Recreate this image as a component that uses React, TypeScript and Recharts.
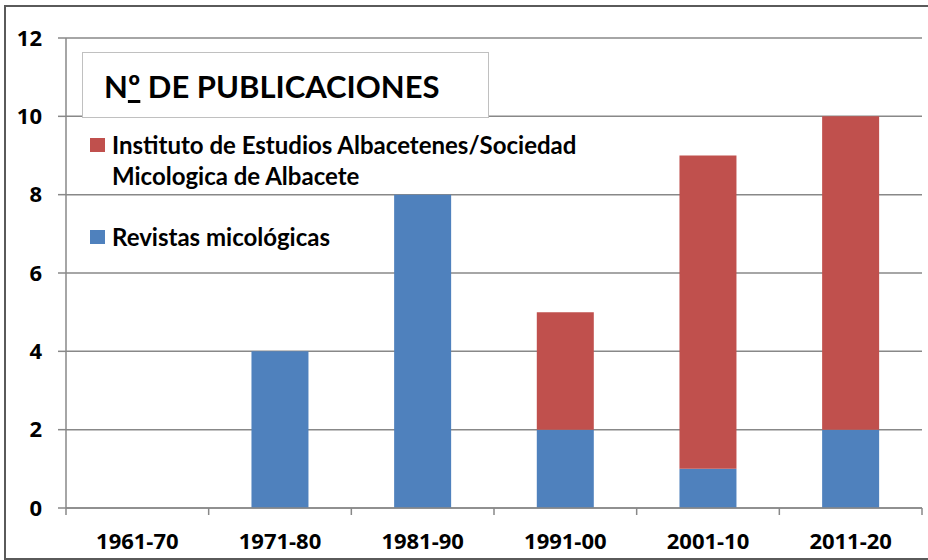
import { BarChart, Bar, XAxis, YAxis, CartesianGrid } from 'recharts';

const decades = ['1961-70', '1971-80', '1981-90', '1991-00', '2001-10', '2011-20'];
const revistas = [0, 4, 8, 2, 1, 2];
const instituto = [0, 0, 0, 3, 8, 8];
const yTicks = [0, 2, 4, 6, 8, 10, 12];

const titleText = ['N', 'º', ' DE PUBLICACIONES'];
const seriesNames = {
  revistas: 'Revistas micológicas',
  instituto: 'Instituto de Estudios Albacetenes/Sociedad Micologica de Albacete',
};

const BLUE = '#4f81bd';
const RED = '#c0504d';
const GRID = '#888888';
const FONT = 'Lato, "Open Sans", sans-serif';
const TICK_FONT = '"Open Sans", Lato, sans-serif';

const data = decades.map((d, i) => ({
  decade: d,
  revistas: revistas[i],
  instituto: instituto[i],
}));

const XTick = (props: any) => {
  const { x, y, payload, index, visibleTicksCount } = props;
  const half = payload.offset ?? 0;
  const axisY = y - 8;
  return (
    <g>
      <line x1={x - half} y1={axisY} x2={x - half} y2={axisY + 7} stroke={GRID} strokeWidth={1.5} />
      {index === visibleTicksCount - 1 && (
        <line x1={x + half} y1={axisY} x2={x + half} y2={axisY + 7} stroke={GRID} strokeWidth={1.5} />
      )}
      <text
        x={x}
        y={axisY + 41}
        textAnchor="middle"
        fontFamily={TICK_FONT}
        fontWeight={700}
        fontSize={22}
        fill="#000"
      >
        {payload.value}
      </text>
    </g>
  );
};

// legend drawn over the plot, red series listed first like the original
const LegendBox = () => (
  <div
    style={{
      position: 'absolute',
      left: 90,
      top: 129,
      fontFamily: FONT,
      fontWeight: 700,
      fontSize: 24,
      color: '#000',
    }}
  >
    <div style={{ display: 'flex', alignItems: 'flex-start', width: 520 }}>
      <span style={{ width: 15, height: 14, background: RED, marginTop: 9, marginRight: 7, flexShrink: 0 }} />
      <span style={{ lineHeight: '31px', width: 495 }}>{seriesNames.instituto}</span>
    </div>
    <div style={{ display: 'flex', alignItems: 'flex-start', marginTop: 30 }}>
      <span style={{ width: 15, height: 14, background: BLUE, marginTop: 9, marginRight: 7, flexShrink: 0 }} />
      <span style={{ lineHeight: '31px' }}>{seriesNames.revistas}</span>
    </div>
  </div>
);

export default function App() {
  return (
    <div style={{ position: 'fixed', left: 0, top: 0, width: 928, height: 560, background: '#fff', overflow: 'hidden' }}>
      <BarChart
        width={928}
        height={560}
        data={data}
        margin={{ top: 38, right: 6, left: 10, bottom: 0 }}
        barCategoryGap="30%"
      >
        <CartesianGrid vertical={false} stroke={GRID} strokeWidth={1.5} />
        <XAxis
          dataKey="decade"
          height={52}
          axisLine={{ stroke: GRID, strokeWidth: 1.5 }}
          tickLine={false}
          tick={<XTick />}
          interval={0}
        />
        <YAxis
          width={56}
          domain={[0, 12]}
          ticks={yTicks}
          axisLine={{ stroke: GRID, strokeWidth: 1.5 }}
          tickLine={{ stroke: GRID, strokeWidth: 1.5 }}
          tickSize={8}
          tickMargin={16}
          tick={{ fontFamily: TICK_FONT, fontWeight: 700, fontSize: 22, fill: '#000' }}
        />
        <Bar dataKey="revistas" stackId="a" fill={BLUE} isAnimationActive={false} />
        <Bar dataKey="instituto" stackId="a" fill={RED} isAnimationActive={false} />
      </BarChart>
      <LegendBox />
      <div
        style={{
          position: 'absolute',
          left: 82,
          top: 52,
          width: 384,
          height: 64,
          background: '#fff',
          border: '1.5px solid #c0c0c0',
          fontFamily: FONT,
          fontWeight: 700,
          fontSize: 31,
          lineHeight: '66px',
          paddingLeft: 21,
          boxSizing: 'content-box',
        }}
      >
        {titleText[0]}
        <span style={{ textDecoration: 'underline', textUnderlineOffset: 2 }}>{titleText[1]}</span>
        {titleText[2]}
      </div>
      <div
        style={{
          position: 'absolute',
          left: 4,
          top: 5,
          width: 926,
          height: 551,
          border: '2px solid #5a5a5a',
          pointerEvents: 'none',
        }}
      />
    </div>
  );
}
